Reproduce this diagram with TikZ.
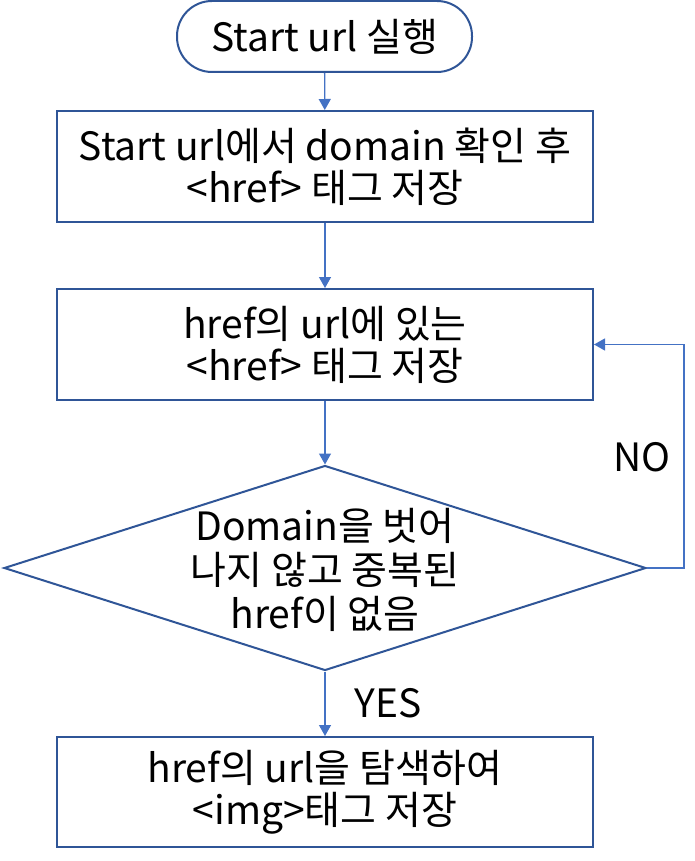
\documentclass[tikz,border=0pt]{standalone}
\usepackage{fontspec}
\setmainfont{Noto Sans CJK KR}
\usetikzlibrary{shapes.geometric,arrows.meta}
\definecolor{shapeblue}{HTML}{2F5597}
\definecolor{connblue}{HTML}{4472C4}
\tikzset{
  x=1pt,y=1pt,
  shapebox/.style={draw=shapeblue,line width=2pt,fill=white,inner sep=0pt,align=center,
    font=\fontsize{39}{42}\selectfont},
  procbox/.style={shapebox,rectangle,minimum width=536pt},
  conn/.style={draw=connblue,line width=1.3pt,-{Triangle[length=11pt,width=12pt]}},
  lbl/.style={font=\fontsize{39}{41}\selectfont,inner sep=0pt}
}
\begin{document}
\begin{tikzpicture}
\useasboundingbox (0,0) rectangle (694,-861);
\node[shapebox,rounded corners=35pt,minimum width=295pt,minimum height=71pt] (s) at (324.5,-36.5) {Start url 실행};
\node[procbox,minimum height=111pt] (b1) at (325,-166.5) {Start url에서 domain 확인 후\\\textless href\textgreater\ 태그 저장};
\node[procbox,minimum height=111pt] (b2) at (325,-344.5) {href의 url에 있는\\\textless href\textgreater\ 태그 저장};
\node[draw=shapeblue,line width=2pt,fill=white,diamond,aspect=3.13,minimum width=642pt,minimum height=205pt,inner sep=0pt] (d) at (325,-568) {};
\node[align=center,inner sep=0pt,font=\fontsize{39}{44}\selectfont] (dt) at (325,-570) {Domain을 벗어\\나지 않고 중복된\\href이 없음};
\node[procbox,minimum height=110pt] (b3) at (325,-792) {href의 url을 탐색하여\\\textless img\textgreater 태그 저장};
\node[lbl] (no) at (642,-457) {NO};
\node[lbl] (yes) at (388,-703) {YES};
\coordinate (lp) at (684,-344.5);
\draw[conn] (s) -- (b1);
\draw[conn] (b1) -- (b2);
\draw[conn] (b2) -- (d);
\draw[conn] (d) -- (b3);
\draw[conn] (d.east) -| (lp) -- (b2.east);
\end{tikzpicture}
\end{document}
